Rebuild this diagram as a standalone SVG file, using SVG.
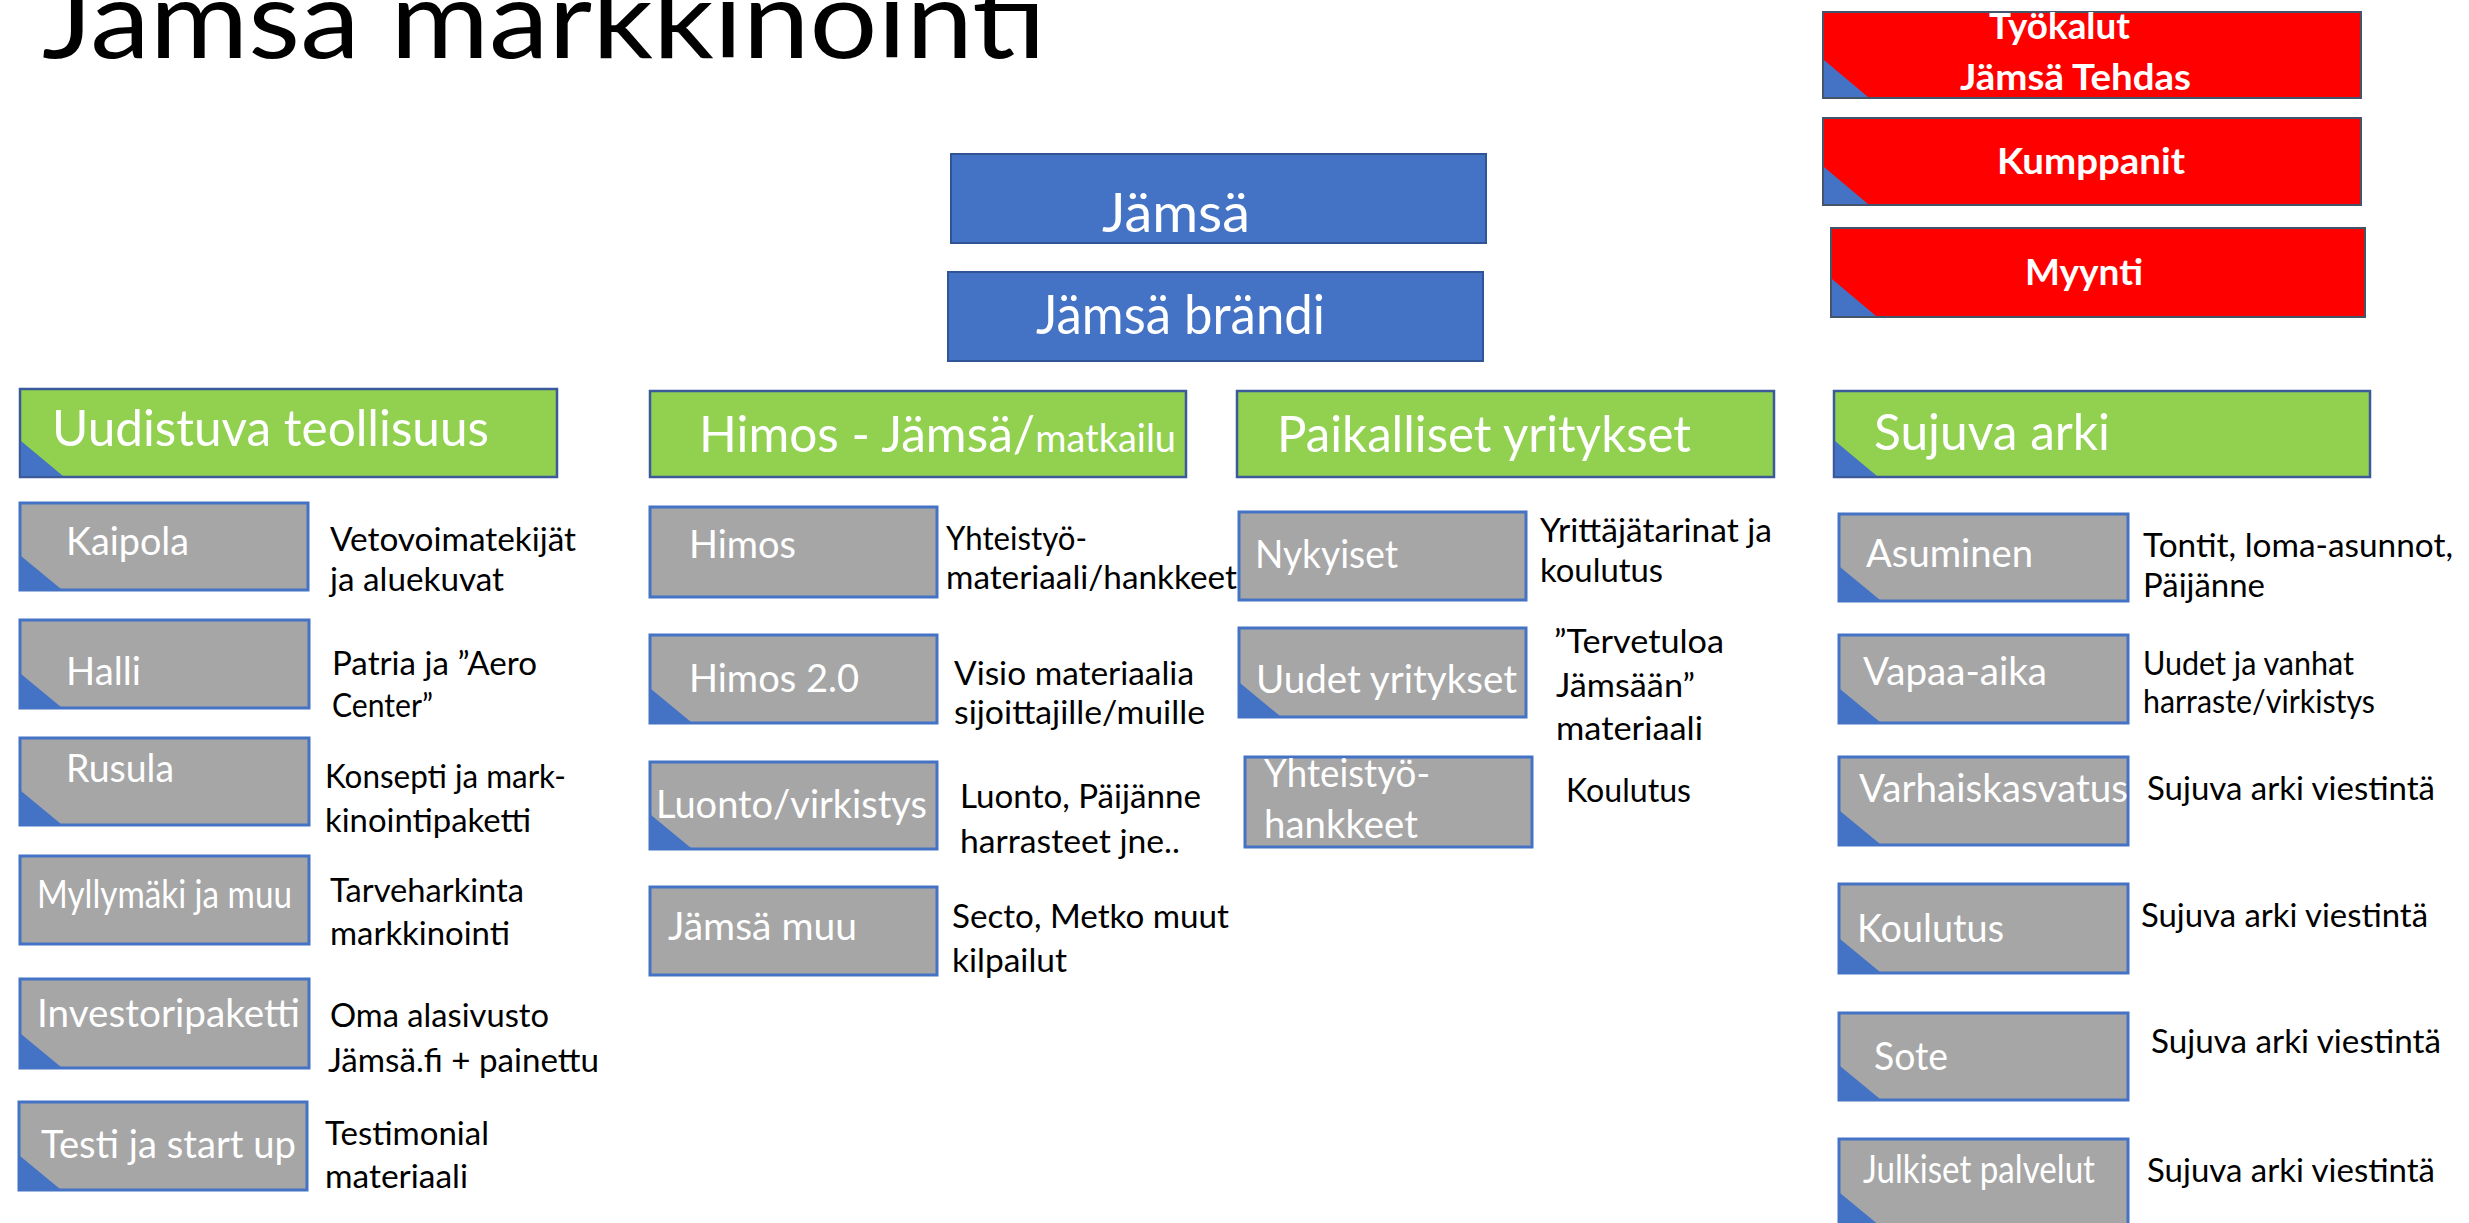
<svg xmlns="http://www.w3.org/2000/svg" xmlns:xlink="http://www.w3.org/1999/xlink" width="2469" height="1223" viewBox="0 0 2469 1223">
<style>
text{font-family:Lato,"Open Sans","Liberation Sans",sans-serif}
.title{font-size:108px;font-weight:400;fill:#000}
.blue{fill:#4472C4;stroke:#2F5597;stroke-width:2}
.red{fill:#FF0000;stroke:#44546A;stroke-width:2}
.green{fill:#92D050;stroke:#3B5A9A;stroke-width:2.5}
.gray{fill:#A6A6A6;stroke:#4472C4;stroke-width:3}
.tri{fill:#4472C4}
.wb{fill:#fff;font-size:54px}
.wr{fill:#fff;font-size:37px;font-weight:bold}
.wg{fill:#fff;font-size:51px}
.wl{fill:#fff;font-size:38px}
.d{fill:#000;font-size:33px}
</style>
<defs>
<polygon id="tg" points="0,0 0,33 40,33"/>
<polygon id="tgr" points="0,0 0,35 42,35"/>
<polygon id="trd" points="0,0 0,37 44,37"/>
</defs>
<rect width="2469" height="1223" fill="#fff"/>
<g id="title"><text class="title" x="42" y="58" textLength="1004" lengthAdjust="spacingAndGlyphs">Jämsä markkinointi</text></g>

<g id="jamsa"><rect class="blue" x="951" y="154" width="535" height="89"/><text class="wb" x="1102" y="232" textLength="148" lengthAdjust="spacingAndGlyphs">Jämsä</text></g>
<g id="jamsa-brandi"><rect class="blue" x="948" y="272" width="535" height="89"/><text class="wb" x="1036" y="334" font-size="51" textLength="289" lengthAdjust="spacingAndGlyphs">Jämsä brändi</text></g>

<g id="tyokalut"><rect class="red" x="1823" y="12" width="538" height="86"/><use xlink:href="#trd" x="1824" y="60" class="tri"/><text class="wr" x="1989" y="39" textLength="141" lengthAdjust="spacingAndGlyphs">Työkalut</text><text class="wr" x="1960" y="90" textLength="231" lengthAdjust="spacingAndGlyphs">Jämsä Tehdas</text></g>
<g id="kumppanit"><rect class="red" x="1823" y="118" width="538" height="87"/><use xlink:href="#trd" x="1824" y="167" class="tri"/><text class="wr" x="1997" y="174" textLength="188" lengthAdjust="spacingAndGlyphs">Kumppanit</text></g>
<g id="myynti"><rect class="red" x="1831" y="228" width="534" height="89"/><use xlink:href="#trd" x="1832" y="279" class="tri"/><text class="wr" x="2025" y="285" textLength="118" lengthAdjust="spacingAndGlyphs">Myynti</text></g>

<g id="uudistuva"><rect class="green" x="20" y="389" width="537" height="88"/><use xlink:href="#tgr" x="21" y="441" class="tri"/><text class="wg" x="52" y="446" textLength="437" lengthAdjust="spacingAndGlyphs">Uudistuva teollisuus</text></g>
<g id="himos-jamsa"><rect class="green" x="650" y="391" width="536" height="86"/><text class="wg" x="699" y="452" textLength="477" lengthAdjust="spacingAndGlyphs">Himos - Jämsä/<tspan font-size="39">matkailu</tspan></text></g>
<g id="paikalliset"><rect class="green" x="1237" y="391" width="537" height="86"/><text class="wg" x="1277" y="452" textLength="414" lengthAdjust="spacingAndGlyphs">Paikalliset yritykset</text></g>
<g id="sujuva"><rect class="green" x="1834" y="391" width="536" height="86"/><use xlink:href="#tgr" x="1835" y="441" class="tri"/><text class="wg" x="1874" y="450" textLength="236" lengthAdjust="spacingAndGlyphs">Sujuva arki</text></g>

<g id="kaipola"><rect class="gray" x="20" y="503" width="288" height="87"/><use xlink:href="#tg" x="21" y="556" class="tri"/><text class="wl" x="66" y="555" textLength="123" lengthAdjust="spacingAndGlyphs">Kaipola</text>
<text class="d" x="330" y="551" textLength="246" lengthAdjust="spacingAndGlyphs">Vetovoimatekijät</text><text class="d" x="330" y="591" textLength="174" lengthAdjust="spacingAndGlyphs">ja aluekuvat</text></g>
<g id="halli"><rect class="gray" x="20" y="620" width="289" height="88"/><use xlink:href="#tg" x="21" y="674" class="tri"/><text class="wl" x="66" y="685" textLength="75" lengthAdjust="spacingAndGlyphs">Halli</text>
<text class="d" x="332" y="675" textLength="205" lengthAdjust="spacingAndGlyphs">Patria ja ”Aero</text><text class="d" x="332" y="717" textLength="101" lengthAdjust="spacingAndGlyphs">Center”</text></g>
<g id="rusula"><rect class="gray" x="20" y="738" width="289" height="87"/><use xlink:href="#tg" x="21" y="791" class="tri"/><text class="wl" x="66" y="782" textLength="108" lengthAdjust="spacingAndGlyphs">Rusula</text>
<text class="d" x="325" y="788" textLength="241" lengthAdjust="spacingAndGlyphs">Konsepti ja mark-</text><text class="d" x="325" y="832" textLength="206" lengthAdjust="spacingAndGlyphs">kinointipaketti</text></g>
<g id="myllymaki"><rect class="gray" x="20" y="856" width="289" height="88"/><text class="wl" x="37" y="908" font-size="34" textLength="255" lengthAdjust="spacingAndGlyphs">Myllymäki ja muu</text>
<text class="d" x="330" y="902" textLength="194" lengthAdjust="spacingAndGlyphs">Tarveharkinta</text><text class="d" x="330" y="945" textLength="180" lengthAdjust="spacingAndGlyphs">markkinointi</text></g>
<g id="investoripaketti"><rect class="gray" x="20" y="979" width="289" height="89"/><use xlink:href="#tg" x="21" y="1034" class="tri"/><text class="wl" x="37" y="1027" textLength="263" lengthAdjust="spacingAndGlyphs">Investoripaketti</text>
<text class="d" x="330" y="1027" textLength="219" lengthAdjust="spacingAndGlyphs">Oma alasivusto</text><text class="d" x="328" y="1072" textLength="271" lengthAdjust="spacingAndGlyphs">Jämsä.fi + painettu</text></g>
<g id="testi"><rect class="gray" x="19" y="1102" width="288" height="88"/><use xlink:href="#tg" x="20" y="1156" class="tri"/><text class="wl" x="41" y="1158" textLength="255" lengthAdjust="spacingAndGlyphs">Testi ja start up</text>
<text class="d" x="325" y="1145" textLength="164" lengthAdjust="spacingAndGlyphs">Testimonial</text><text class="d" x="325" y="1188" textLength="143" lengthAdjust="spacingAndGlyphs">materiaali</text></g>

<g id="himos"><rect class="gray" x="650" y="507" width="287" height="90"/><text class="wl" x="689" y="558" textLength="107" lengthAdjust="spacingAndGlyphs">Himos</text>
<text class="d" x="946" y="550" textLength="141" lengthAdjust="spacingAndGlyphs">Yhteistyö-</text><text class="d" x="946" y="589" textLength="291" lengthAdjust="spacingAndGlyphs">materiaali/hankkeet</text></g>
<g id="himos2"><rect class="gray" x="650" y="635" width="287" height="88"/><use xlink:href="#tg" x="651" y="689" class="tri"/><text class="wl" x="689" y="692" textLength="170" lengthAdjust="spacingAndGlyphs">Himos 2.0</text>
<text class="d" x="954" y="685" textLength="240" lengthAdjust="spacingAndGlyphs">Visio materiaalia</text><text class="d" x="954" y="724" textLength="251" lengthAdjust="spacingAndGlyphs">sijoittajille/muille</text></g>
<g id="luonto"><rect class="gray" x="650" y="762" width="287" height="87"/><use xlink:href="#tg" x="651" y="815" class="tri"/><text class="wl" x="656" y="818" textLength="271" lengthAdjust="spacingAndGlyphs">Luonto/virkistys</text>
<text class="d" x="960" y="808" textLength="241" lengthAdjust="spacingAndGlyphs">Luonto, Päijänne</text><text class="d" x="960" y="853" textLength="220" lengthAdjust="spacingAndGlyphs">harrasteet jne..</text></g>
<g id="jamsa-muu"><rect class="gray" x="650" y="887" width="287" height="88"/><text class="wl" x="668" y="940" textLength="189" lengthAdjust="spacingAndGlyphs">Jämsä muu</text>
<text class="d" x="952" y="928" textLength="277" lengthAdjust="spacingAndGlyphs">Secto, Metko muut</text><text class="d" x="952" y="972" textLength="115" lengthAdjust="spacingAndGlyphs">kilpailut</text></g>

<g id="nykyiset"><rect class="gray" x="1239" y="512" width="287" height="88"/><text class="wl" x="1255" y="568" textLength="143" lengthAdjust="spacingAndGlyphs">Nykyiset</text>
<text class="d" x="1540" y="542" textLength="232" lengthAdjust="spacingAndGlyphs">Yrittäjätarinat ja</text><text class="d" x="1540" y="582" textLength="123" lengthAdjust="spacingAndGlyphs">koulutus</text></g>
<g id="uudet"><rect class="gray" x="1239" y="628" width="287" height="89"/><use xlink:href="#tg" x="1240" y="683" class="tri"/><text class="wl" x="1256" y="693" textLength="261" lengthAdjust="spacingAndGlyphs">Uudet yritykset</text>
<text class="d" x="1554" y="653" textLength="170" lengthAdjust="spacingAndGlyphs">”Tervetuloa</text><text class="d" x="1556" y="697" textLength="139" lengthAdjust="spacingAndGlyphs">Jämsään”</text><text class="d" x="1556" y="740" textLength="147" lengthAdjust="spacingAndGlyphs">materiaali</text></g>
<g id="yhteistyo"><rect class="gray" x="1245" y="757" width="287" height="90"/><text class="wl" x="1264" y="787" textLength="166" lengthAdjust="spacingAndGlyphs">Yhteistyö-</text><text class="wl" x="1264" y="838" textLength="154" lengthAdjust="spacingAndGlyphs">hankkeet</text>
<text class="d" x="1566" y="802" textLength="125" lengthAdjust="spacingAndGlyphs">Koulutus</text></g>

<g id="asuminen"><rect class="gray" x="1839" y="514" width="289" height="87"/><use xlink:href="#tg" x="1840" y="567" class="tri"/><text class="wl" x="1866" y="567" textLength="167" lengthAdjust="spacingAndGlyphs">Asuminen</text>
<text class="d" x="2143" y="557" textLength="310" lengthAdjust="spacingAndGlyphs">Tontit, loma-asunnot,</text><text class="d" x="2143" y="597" textLength="122" lengthAdjust="spacingAndGlyphs">Päijänne</text></g>
<g id="vapaa-aika"><rect class="gray" x="1839" y="635" width="289" height="88"/><use xlink:href="#tg" x="1840" y="689" class="tri"/><text class="wl" x="1863" y="685" textLength="184" lengthAdjust="spacingAndGlyphs">Vapaa-aika</text>
<text class="d" x="2143" y="675" font-size="31" textLength="211" lengthAdjust="spacingAndGlyphs">Uudet ja vanhat</text><text class="d" x="2143" y="713" font-size="31" textLength="232" lengthAdjust="spacingAndGlyphs">harraste/virkistys</text></g>
<g id="varhaiskasvatus"><rect class="gray" x="1839" y="757" width="289" height="88"/><use xlink:href="#tg" x="1840" y="811" class="tri"/><text class="wl" x="1859" y="802" textLength="269" lengthAdjust="spacingAndGlyphs">Varhaiskasvatus</text>
<text class="d" x="2147" y="800" textLength="288" lengthAdjust="spacingAndGlyphs">Sujuva arki viestintä</text></g>
<g id="koulutus"><rect class="gray" x="1839" y="884" width="289" height="89"/><use xlink:href="#tg" x="1840" y="939" class="tri"/><text class="wl" x="1857" y="942" textLength="147" lengthAdjust="spacingAndGlyphs">Koulutus</text>
<text class="d" x="2141" y="927" textLength="287" lengthAdjust="spacingAndGlyphs">Sujuva arki viestintä</text></g>
<g id="sote"><rect class="gray" x="1839" y="1013" width="289" height="87"/><use xlink:href="#tg" x="1840" y="1066" class="tri"/><text class="wl" x="1874" y="1070" textLength="74" lengthAdjust="spacingAndGlyphs">Sote</text>
<text class="d" x="2151" y="1053" textLength="290" lengthAdjust="spacingAndGlyphs">Sujuva arki viestintä</text></g>
<g id="julkiset"><rect class="gray" x="1839" y="1139" width="289" height="92"/><use xlink:href="#tg" x="1840" y="1193" class="tri"/><text class="wl" x="1863" y="1183" font-size="35" textLength="232" lengthAdjust="spacingAndGlyphs">Julkiset palvelut</text>
<text class="d" x="2147" y="1182" textLength="288" lengthAdjust="spacingAndGlyphs">Sujuva arki viestintä</text></g>

<g id="connectors"></g>
</svg>
